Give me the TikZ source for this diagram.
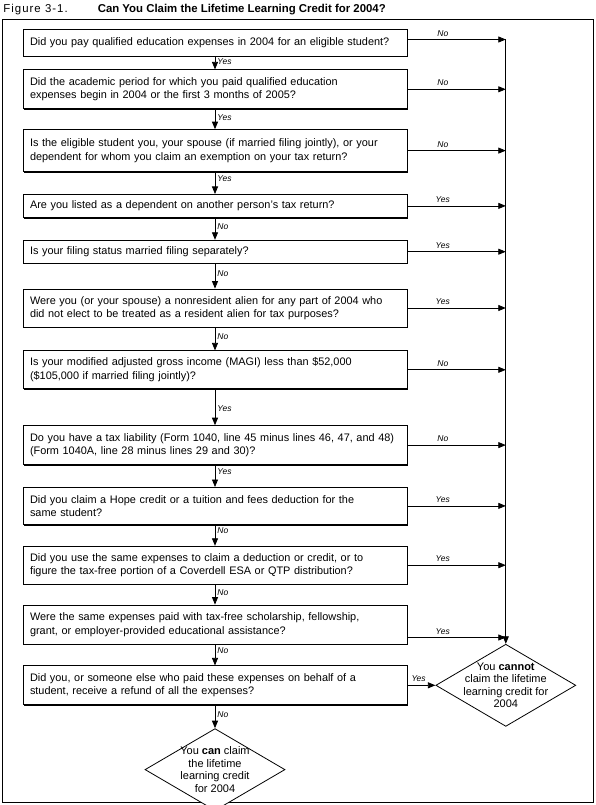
\documentclass[tikz,border=0pt]{standalone}
\usepackage{fontspec}
\setmainfont{Liberation Sans}
\usetikzlibrary{shapes,arrows,arrows.meta,positioning,shadows}
\tikzstyle{block} = [draw, fill=white, rectangle, text width=370pt, inner xsep=7pt,
inner ysep=2pt, minimum height=38pt, align=left, font=\fontsize{10.9}{13.5}\selectfont,
drop shadow={shadow xshift=1.2pt, shadow yshift=-1.2pt, fill=black, opacity=1}]
\tikzstyle{decision} = [draw, fill=white, diamond, minimum width=140pt, minimum height=82pt,
inner sep=-12pt, align=center, font=\fontsize{11}{12.5}\selectfont]
\tikzstyle{ans} = [font=\fontsize{8.5}{9}\selectfont\itshape, inner sep=2pt]
\tikzstyle{ansdown} = [ans, right, pos=.4]
\tikzstyle{ansright} = [ans, above, pos=.36, yshift=1pt]

\begin{document}
\begin{tikzpicture}[x=1pt, y=-1pt, node distance=22pt,
  >={Triangle[length=7.5pt,width=6pt]}, line width=0.8pt]
\useasboundingbox (0,0) rectangle (595,805);

% Frame and title
\draw [line width=0.7pt] (2,19) rectangle (593,802);
\node [anchor=base west, inner sep=0, font=\fontsize{11.4}{13}\selectfont] (title) at (3,13)
{{\addfontfeature{LetterSpace=9}Figure 3-1.}\hspace{29pt}\textbf{Can You Claim the Lifetime Learning Credit for 2004?}};

% We start by stacking the questions
\node [block, minimum height=27pt] (q1) at (215,42.5)
{Did you pay qualified education expenses in 2004 for an eligible student?};
\node [block, below=13pt of q1, minimum height=39pt] (q2)
{Did the academic period for which you paid qualified education\\
expenses begin in 2004 or the first 3 months of 2005?};
\node [block, below=20pt of q2, minimum height=42pt] (q3)
{Is the eligible student you, your spouse (if married filing jointly), or your\\
dependent for whom you claim an exemption on your tax return?};
\node [block, below=22pt of q3, minimum height=23pt] (q4)
{Are you listed as a dependent on another person’s tax return?};
\node [block, below=22pt of q4, minimum height=23pt] (q5)
{Is your filing status married filing separately?};
\node [block, below=25pt of q5] (q6)
{Were you (or your spouse) a nonresident alien for any part of 2004 who\\
did not elect to be treated as a resident alien for tax purposes?};
\node [block, below=23pt of q6] (q7)
{Is your modified adjusted gross income (MAGI) less than \$52,000\\
(\$105,000 if married filing jointly)?};
\node [block, below=36pt of q7, minimum height=39pt] (q8)
{Do you have a tax liability (Form 1040, line 45 minus lines 46, 47, and 48)\\
(Form 1040A, line 28 minus lines 29 and 30)?};
\node [block, below=22pt of q8, minimum height=37pt] (q9)
{Did you claim a Hope credit or a tuition and fees deduction for the\\
same student?};
\node [block, below=21pt of q9] (q10)
{Did you use the same expenses to claim a deduction or credit, or to\\
figure the tax-free portion of a Coverdell ESA or QTP distribution?};
\node [block, below=20pt of q10, minimum height=39pt] (q11)
{Were the same expenses paid with tax-free scholarship, fellowship,\\
grant, or employer-provided educational assistance?};
\node [block, below=21pt of q11, minimum height=39pt] (q12)
{Did you, or someone else who paid these expenses on behalf of a\\
student, receive a refund of all the expenses?};

% The two outcomes
\node [decision, below=23pt of q12] (can)
{You \textbf{can} claim\\ the lifetime\\ learning credit\\ for 2004};
\node [decision, right=28pt of q12] (cannot)
{You \textbf{cannot}\\ claim the lifetime\\ learning credit for\\ 2004};
\coordinate (rail) at (cannot.north);

% Going down the list
\draw [->] (q1) -- node [ansdown] {Yes} (q2);
\draw [->] (q2) -- node [ansdown] {Yes} (q3);
\draw [->] (q3) -- node [ansdown, pos=.3] {Yes} (q4);
\draw [->] (q4) -- node [ansdown] {No} (q5);
\draw [->] (q5) -- node [ansdown] {No} (q6);
\draw [->] (q6) -- node [ansdown] {No} (q7);
\draw [->] (q7) -- node [ansdown, pos=.55] {Yes} (q8);
\draw [->] (q8) -- node [ansdown, pos=.3] {Yes} (q9);
\draw [->] (q9) -- node [ansdown, pos=.3] {No} (q10);
\draw [->] (q10) -- node [ansdown] {No} (q11);
\draw [->] (q11) -- node [ansdown, pos=.3] {No} (q12);
\draw [->] (q12) -- node [ansdown] {No} (can);

% Every way out leads to the rail on the right
\draw [->] ([yshift=3pt]q1.east) -- node [ansright] {No} ([yshift=3pt]q1.east -| rail);
\draw [->] (q2) -- node [ansright] {No} (q2 -| rail);
\draw [->] (q3) -- node [ansright] {No} (q3 -| rail);
\draw [->] (q4) -- node [ansright] {Yes} (q4 -| rail);
\draw [->] (q5) -- node [ansright] {Yes} (q5 -| rail);
\draw [->] (q6) -- node [ansright] {Yes} (q6 -| rail);
\draw [->] (q7) -- node [ansright] {No} (q7 -| rail);
\draw [->] (q8) -- node [ansright] {No} (q8 -| rail);
\draw [->] (q9) -- node [ansright] {Yes} (q9 -| rail);
\draw [->] (q10) -- node [ansright] {Yes} (q10 -| rail);
\draw [->] ([yshift=-13pt]q11.east) -- node [ansright] {Yes} ([yshift=-13pt]q11.east -| rail);
\draw [->] (q12.east |- cannot.west) -- node [ansright, pos=.4] {Yes} (cannot);
\draw [->] ([yshift=3pt]q1.east -| rail) -- (cannot);
\end{tikzpicture}
\end{document}
